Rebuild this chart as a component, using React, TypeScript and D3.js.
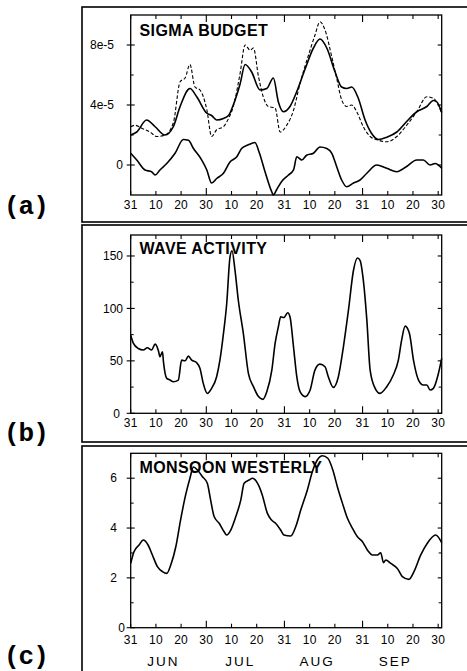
import * as d3 from 'd3';

// x is measured in days counted from 31 May
const dayTicks = [0, 10, 20, 30, 40, 50, 61, 71, 81, 92, 102, 112, 122];
const dayLabels = ['31', '10', '20', '30', '10', '20', '31', '10', '20', '31', '10', '20', '30'];
const monthEnds = [30, 61, 92];
const months = ['JUN', 'JUL', 'AUG', 'SEP'];
const monthMid = [13, 43.5, 74, 105];

// sigma budget, units of 1e-5
const budgetSolid: [number, number][] = [
  [0, 2.0], [2.4, 2.2], [6.3, 3.0], [9.7, 2.55], [13.6, 2.0], [16.9, 2.55], [19.6, 3.9], [23.5, 5.1],
  [26.2, 4.55], [30.2, 3.45], [32.1, 3.3], [34.1, 3.0], [36.8, 3.1], [38.8, 3.3], [40.7, 4.0], [43.4, 5.4],
  [45.4, 6.7], [48, 6.2], [51.3, 5.0], [54, 5.1], [56.6, 5.8], [58.6, 4.2], [60.6, 3.55], [63.2, 3.9],
  [65.9, 4.9], [69.2, 6.4], [72.5, 7.8], [75.1, 8.4], [77.8, 7.8], [81.1, 6.2], [83.7, 5.2], [85.7, 5.1],
  [87.7, 5.2], [90.3, 4.45], [93, 3.0], [95.6, 2.1], [98.3, 1.7], [101.6, 1.85], [105.6, 2.2], [109.5, 2.9],
  [113.5, 3.55], [117.5, 3.9], [120.1, 4.3], [121.5, 4.2], [123.4, 3.5],
];
const budgetDashed: [number, number][] = [
  [0, 2.55], [1.7, 2.65], [4.4, 2.45], [7.7, 2.2], [10.3, 1.9], [13.6, 2.0], [16.9, 2.8], [19.6, 5.55],
  [21.6, 5.8], [23.5, 6.7], [25.5, 5.2], [27.5, 5.0], [30.2, 3.7], [32.1, 1.9], [34.1, 2.35], [36.8, 2.55],
  [38.8, 3.1], [40.7, 3.9], [43.4, 6.1], [45.4, 8.0], [47.4, 7.65], [48.7, 7.8], [50.7, 5.9], [52.6, 4.55],
  [54.6, 3.9], [57.3, 3.8], [59.3, 2.2], [61.9, 2.65], [64.6, 3.65], [67.2, 5.45], [70.5, 7.3], [73.1, 8.65],
  [75.1, 9.55], [77.1, 9.0], [79.8, 7.2], [81.7, 5.8], [83.7, 4.35], [85.7, 3.9], [87.7, 4.0], [89.7, 3.55],
  [92.3, 2.55], [95, 1.9], [98.3, 1.65], [101.6, 1.55], [105.6, 1.9], [109.5, 2.65], [113.5, 3.55],
  [117.5, 4.55], [120.1, 4.45], [123.4, 3.45],
];
const budgetResidual: [number, number][] = [
  [0, 0.78], [2.4, 0.33], [5.7, -0.33], [8.3, -0.45], [9.7, -0.67], [11.6, -0.33], [14.3, 0.1], [17.6, 0.78],
  [20.9, 1.7], [22.9, 1.65], [24.9, 1.1], [28.2, 0.33], [30.2, -0.33], [32.1, -1.2], [34.1, -0.9],
  [36.8, -0.55], [39.4, 0.2], [42.1, 0.55], [44, 1.1], [46.7, 1.35], [49.3, 1.5], [51.1, 0.78],
  [53.3, -0.45], [56, -1.8], [56.6, -2.0], [57.9, -1.65], [59.9, -1.1], [62.6, -0.67], [64.6, -0.33],
  [65.9, 0.55], [67.9, 0.33], [69.8, 0.65], [72.5, 0.78], [75.1, 1.2], [77.8, 1.1], [79.8, 0.78],
  [81.7, -0.1], [83.7, -1.0], [85.7, -1.45], [88.4, -1.2], [91, -1.0], [93.7, -0.55], [97.6, 0],
  [101.6, -0.22], [105.6, -0.45], [109.5, -0.1], [113.5, 0.33], [116.1, 0.33], [118.8, 0], [120.8, 0.1],
  [123.4, -0.22],
];

const waveActivity: [number, number][] = [
  [0, 74.5], [1.1, 66.6], [3, 61.8], [5, 60.3], [6.6, 62.5], [8.3, 60.3], [9.7, 66], [11, 59.6], [11.6, 54],
  [12.6, 58.7], [13, 49], [14.3, 33.3], [15.6, 31.7], [16.9, 30.1], [18.9, 31.7], [20.2, 50.7], [21.6, 50.1],
  [22.9, 54.5], [24.2, 50.7], [26.2, 48.2], [27.5, 42.8], [28.8, 28.5], [30.4, 19], [32.1, 23.8], [34.1, 34.9],
  [35.4, 50.7], [36.8, 76], [38.1, 104.7], [39.4, 149], [40.2, 155], [41.4, 136], [42.7, 107.8], [44.7, 76],
  [46.7, 38], [48.7, 25.4], [50.7, 15.9], [52.4, 13.3], [54, 20.6], [56, 41.2], [57.3, 66.6], [58.6, 82.5],
  [59.5, 92], [60.8, 91.3], [62.3, 95.8], [63.2, 92], [64.6, 63.4], [65.9, 34.9], [67.2, 20.6], [69.2, 15.9],
  [71.2, 22.2], [73.1, 41.2], [75.1, 46.9], [77.1, 44.4], [78.4, 34.9], [80.4, 24.7], [82.4, 34.9],
  [84.4, 63.4], [86.4, 98.3], [88.4, 136.4], [90, 148], [91, 145.9], [92.3, 126.9], [93.7, 88.8], [95, 41.2],
  [97, 23.8], [98.9, 19], [101.6, 25.4], [104.2, 36.5], [106.2, 50.7], [107.5, 69.8], [108.9, 83.1],
  [110.6, 76], [112.2, 50.7], [114.2, 31.7], [116.1, 27], [117.5, 27], [118.8, 22.2], [120.1, 23.8],
  [122.1, 38], [123.4, 52.3],
];

const monsoonWesterly: [number, number][] = [
  [0, 2.58], [1.3, 3.05], [3.3, 3.32], [5, 3.52], [6.9, 3.32], [8.6, 2.92], [10.6, 2.45], [12.6, 2.25],
  [14.3, 2.18], [15.9, 2.52], [17.9, 3.25], [19.8, 4.33], [21.8, 5.33], [23.5, 6.0], [24.9, 6.45], [26.5, 6.33],
  [28.4, 6.07], [30.4, 5.8], [31.7, 5.13], [33.1, 4.46], [35.1, 4.19], [37, 3.86], [38.1, 3.72], [39.7, 3.92],
  [41.7, 4.46], [43.7, 5.13], [45, 5.8], [47, 5.93], [48.3, 6.0], [50.3, 5.8], [52.2, 5.33], [54.2, 4.6],
  [55.8, 4.33], [57.5, 4.19], [59.5, 3.92], [60.8, 3.72], [63.5, 3.68], [65.5, 4.06], [67.5, 4.73],
  [70.1, 5.53], [72.1, 6.27], [74.1, 6.74], [76.1, 6.9], [78.2, 6.8], [80.2, 6.33], [82, 5.66], [84, 5.0],
  [86, 4.39], [88, 3.99], [89.9, 3.66], [91.9, 3.46], [93.9, 3.12], [95.9, 2.92], [97.9, 2.92], [99.2, 3.01],
  [100.3, 2.61], [101.2, 2.72], [103.2, 2.58], [105.8, 2.38], [107.8, 2.05], [110.4, 1.94], [112.4, 2.25],
  [115.1, 2.92], [117.7, 3.39], [121, 3.72], [123.4, 3.41],
];

const FONT = "'Liberation Sans', Arial, Helvetica, sans-serif";
const MONO = "'Courier New', 'Liberation Mono', monospace";

const x = d3.scaleLinear().domain([0, 123.4]).range([130.7, 441.7]);

type Series = { data: [number, number][]; dashed?: boolean };

interface PanelProps {
  title: string;
  letter: string;
  frame: [number, number];
  top: number;
  bottom: number;
  domain: [number, number];
  major: number[];
  majorLabels: string[];
  minor: number[];
  labelEnd: number;
  zeroEnd: number;
  xLabelDy: number;
  letterY: number;
  titleY: number;
  series: Series[];
  showMonths?: boolean;
}

function Panel(p: PanelProps) {
  const y = d3.scaleLinear().domain(p.domain).range([p.bottom, p.top]);
  const line = d3.line<[number, number]>()
    .x(d => x(d[0]))
    .y(d => y(d[1]))
    .curve(d3.curveMonotoneX);
  const [x0, x1] = x.range();

  return (
    <g>
      <rect x={82} y={p.frame[0]} width={400} height={p.frame[1] - p.frame[0]}
        fill="none" stroke="#000" strokeWidth={1.6} />
      <text x={4} y={p.letterY} fontFamily={MONO} fontWeight="bold" fontSize={26}
        letterSpacing={-1}>{p.letter}</text>

      <text x={139.5} y={p.titleY} fontFamily={FONT} fontWeight="bold" fontSize={16}
        letterSpacing={0.4}>{p.title}</text>

      {p.series.map((s, i) => (
        <path key={i} d={line(s.data) || ''} fill="none" stroke="#000"
          strokeWidth={s.dashed ? 1.1 : 1.6} strokeDasharray={s.dashed ? '3.5,2' : undefined} />
      ))}

      <rect x={x0} y={p.top} width={x1 - x0} height={p.bottom - p.top}
        fill="none" stroke="#000" strokeWidth={1.3} />

      {/* y ticks */}
      {p.major.map((v, i) => (
        <g key={'M' + i}>
          <line x1={x0 - 4} x2={x0 + 4} y1={y(v)} y2={y(v)} stroke="#000" strokeWidth={1.1} />
          <line x1={x1 - 4} x2={x1} y1={y(v)} y2={y(v)} stroke="#000" strokeWidth={1.1} />
          <text x={v === 0 ? p.zeroEnd : p.labelEnd} y={y(v)} dy="0.35em" textAnchor="end"
            fontFamily={FONT} fontSize={12}>{p.majorLabels[i]}</text>
        </g>
      ))}
      {p.minor.map((v, i) => (
        <g key={'m' + i}>
          <line x1={x0} x2={x0 + 3} y1={y(v)} y2={y(v)} stroke="#000" strokeWidth={1} />
          <line x1={x1 - 3} x2={x1} y1={y(v)} y2={y(v)} stroke="#000" strokeWidth={1} />
        </g>
      ))}

      {/* x ticks */}
      {dayTicks.map((d, i) => {
        const len = monthEnds.includes(d) ? 7 : 4;
        return (
          <g key={'x' + i}>
            <line x1={x(d)} x2={x(d)} y1={p.bottom} y2={p.bottom - len} stroke="#000" strokeWidth={1.1} />
            <line x1={x(d)} x2={x(d)} y1={p.top} y2={p.top + len} stroke="#000" strokeWidth={1.1} />
            <text x={x(d)} y={p.bottom + p.xLabelDy} textAnchor="middle" fontFamily={FONT}
              fontSize={12} letterSpacing={0.3}>{dayLabels[i]}</text>
          </g>
        );
      })}

      {p.showMonths && months.map((m, i) => (
        <text key={m} x={x(monthMid[i])} y={666} textAnchor="middle" fontFamily={FONT}
          fontSize={13.5} letterSpacing={2}>{m}</text>
      ))}
    </g>
  );
}

export default function App() {
  return (
    <svg width={467} height={671} style={{ position: 'absolute', left: 0, top: 0, background: '#fff' }}>
      <rect width={467} height={671} fill="#fff" />
      <Panel title="SIGMA BUDGET" letter="(a)" frame={[7, 222]} top={15} bottom={195}
        domain={[-2, 10]} major={[0, 4, 8]} majorLabels={['0', '4e-5', '8e-5']} minor={[2, 6]}
        labelEnd={114} zeroEnd={123} xLabelDy={13.5} letterY={214} titleY={36}
        series={[{ data: budgetDashed, dashed: true }, { data: budgetSolid }, { data: budgetResidual }]} />
      <Panel title="WAVE ACTIVITY" letter="(b)" frame={[225, 442]} top={235} bottom={413.3}
        domain={[0, 170]} major={[0, 50, 100, 150]} majorLabels={['0', '50', '100', '150']}
        minor={[25, 75, 125]} labelEnd={123} zeroEnd={120} xLabelDy={13.5} letterY={441} titleY={254}
        series={[{ data: waveActivity }]} />
      <Panel title="MONSOON WESTERLY" letter="(c)" frame={[446, 690]} top={453.3} bottom={627.7}
        domain={[0, 7]} major={[0, 2, 4, 6]} majorLabels={['0', '2', '4', '6']} minor={[1, 3, 5]}
        labelEnd={117} zeroEnd={125} xLabelDy={16.5} letterY={664} titleY={473}
        series={[{ data: monsoonWesterly }]} showMonths />
    </svg>
  );
}
